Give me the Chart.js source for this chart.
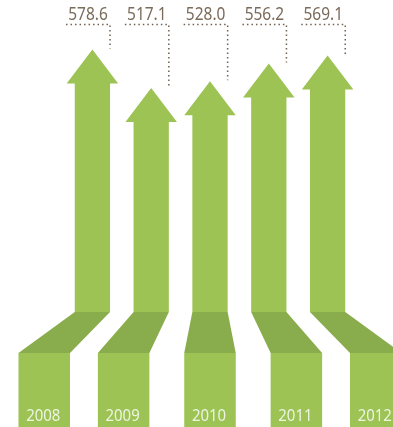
<!DOCTYPE html>
<html>
<head>
<meta charset="utf-8">
<script src="https://cdn.jsdelivr.net/npm/chart.js@4"></script>
<style>
  html, body { margin: 0; padding: 0; background: #fff; }
  #wrap { width: 393px; height: 427px; position: relative; }
</style>
</head>
<body>
<div id="wrap"><canvas id="chart1"></canvas></div>
<script>
// chart data
const years = ['2008', '2009', '2010', '2011', '2012'];
const values = [578.6, 517.1, 528.0, 556.2, 569.1];

const lightGreen = '#9cc354';
const darkGreen = '#89ad4c';
const labelColor = '#7b6b5b';

let ctx = document.getElementById('chart1').getContext('2d');

// draws the arrows, the 3D feet and all texts from the bar elements
const arrowPlugin = {
  id: 'arrows',
  afterDatasetsDraw(chart) {
    const c = chart.ctx;
    const meta = chart.getDatasetMeta(0);
    const area = chart.chartArea;
    const mid = (area.left + area.right) / 2;
    const shaftBottom = area.bottom;
    const footTop = area.bottom + 41;
    const footBottom = chart.height;

    meta.data.forEach(function(bar, i) {
      const half = bar.width / 2;
      const headHalf = bar.width * 0.73;
      const headH = 34;
      const tip = bar.y;
      const left = bar.x - half, right = bar.x + half;

      // arrow head + shaft
      c.fillStyle = lightGreen;
      c.beginPath();
      c.moveTo(bar.x, tip);
      c.lineTo(bar.x + headHalf, tip + headH);
      c.lineTo(right, tip + headH);
      c.lineTo(right, shaftBottom);
      c.lineTo(left, shaftBottom);
      c.lineTo(left, tip + headH);
      c.lineTo(bar.x - headHalf, tip + headH);
      c.closePath();
      c.fill();

      // foot block, spread out from the middle
      const d = bar.x - mid;
      const footX = mid + d * 1.35 + Math.sign(Math.round(d)) * 7;
      const footHalf = bar.width * 0.73;
      c.fillStyle = darkGreen;
      c.beginPath();
      c.moveTo(left, shaftBottom);
      c.lineTo(right, shaftBottom);
      c.lineTo(footX + footHalf, footTop);
      c.lineTo(footX - footHalf, footTop);
      c.closePath();
      c.fill();

      c.fillStyle = lightGreen;
      c.fillRect(footX - footHalf, footTop, footHalf * 2, footBottom - footTop);

      // year text
      c.save();
      c.fillStyle = '#eef4e2';
      c.font = '17px "Noto Sans"';
      c.textAlign = 'center';
      c.textBaseline = 'alphabetic';
      c.translate(footX - 1, footBottom - 6);
      c.scale(0.88, 1);
      c.fillText(years[i], 0, 0);
      c.restore();

      // value label with dotted leader
      c.save();
      c.fillStyle = labelColor;
      c.font = '18px "Noto Sans"';
      c.textAlign = 'center';
      c.translate(right - 22, 20);
      c.scale(0.86, 1);
      c.fillText(values[i].toFixed(1), 0, 0);
      c.restore();

      c.save();
      c.strokeStyle = '#6f6152';
      c.lineWidth = 1.5;
      c.setLineDash([1.5, 3]);
      c.beginPath();
      c.moveTo(right - 44, 24.5);
      c.lineTo(right, 24.5);
      c.lineTo(right, tip - 1);
      c.stroke();
      c.restore();
    });
  }
};

let myChart = new Chart(ctx, {
  type: 'bar',
  data: {
    labels: years,
    datasets: [{
      data: values,
      backgroundColor: 'rgba(0,0,0,0)',
      borderWidth: 0,
      barPercentage: 0.6,
      categoryPercentage: 1
    }]
  },
  options: {
    responsive: true,
    maintainAspectRatio: false,
    animation: false,
    layout: {
      padding: { left: 63, right: 36, top: 36, bottom: 115 }
    },
    scales: {
      x: { display: false },
      y: { display: false, min: 160, max: 600 }
    },
    plugins: {
      legend: { display: false },
      tooltip: { enabled: false }
    }
  },
  plugins: [arrowPlugin]
});
</script>
</body>
</html>
